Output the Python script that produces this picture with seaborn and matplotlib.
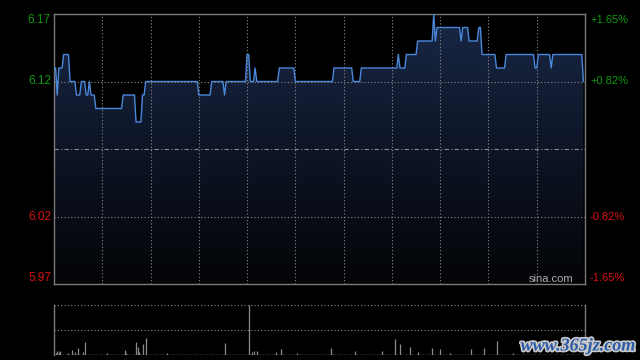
import numpy as np
import pandas as pd
import matplotlib
matplotlib.use("Agg")
import matplotlib.pyplot as plt
import matplotlib.patheffects as pe
from matplotlib.colors import LinearSegmentedColormap
import seaborn as sns

# ---- data ----
price_levels = [6.13, 6.11, 6.13, 6.14, 6.12, 6.11, 6.12, 6.11, 6.12, 6.11,
                6.10, 6.11, 6.09, 6.11, 6.12, 6.11, 6.12, 6.11, 6.12, 6.14,
                6.12, 6.13, 6.12, 6.13, 6.12, 6.13, 6.12, 6.13, 6.14, 6.13,
                6.14, 6.15, 6.17, 6.15, 6.16, 6.15, 6.16, 6.15, 6.16, 6.14,
                6.13, 6.14, 6.13, 6.14, 6.13, 6.14, 6.12]
run_lengths = [2, 1, 3, 4, 4, 3, 3, 2, 1, 3,
               17, 8, 4, 2, 33, 8, 8, 1, 13, 2,
               3, 1, 14, 10, 24, 12, 5, 23, 1, 4,
               7, 10, 1, 1, 15, 1, 4, 6, 2, 9,
               6, 18, 2, 8, 1, 19, 1]
prev_close = 6.07
left_ticks = [6.17, 6.12, 6.02, 5.97]
right_ticks = ["+1.65%", "+0.82%", "-0.82%", "-1.65%"]

vol_minutes = [1, 2, 3, 4, 9, 11, 13, 15, 18, 19, 33, 44, 45, 51, 52, 53, 55, 57,
               70, 106, 121, 123, 124, 126, 138, 141, 151, 172, 187, 204, 212,
               215, 221, 226, 235, 240, 246, 259, 267, 275, 285]
vol_values = [17, 43, 27, 43, 23, 50, 30, 65, 27, 123, 20, 53, 20, 123, 75, 30,
              103, 162, 20, 115, 490, 33, 43, 43, 30, 63, 23, 72, 42, 42, 153,
              103, 82, 27, 72, 60, 20, 60, 72, 142, 23]

prices = np.repeat(price_levels, run_lengths)
minutes = np.arange(len(prices))
df = pd.DataFrame({"minute": minutes, "price": prices})

# ---- figure ----
sns.set_style("dark")
plt.rcParams["font.family"] = ["Liberation Sans", "DejaVu Sans"]
fig = plt.figure(figsize=(6.4, 3.6), dpi=100, facecolor="black")
W, H = 640, 360
ax = fig.add_axes([54 / W, 1 - 284 / H, 531 / W, 270 / H])
axv = fig.add_axes([54 / W, 1 - 355 / H, 531 / W, 50 / H])
for a in (ax, axv):
    a.set_facecolor("black")
    a.grid(False)

xmax = 330
ymin, ymax = 5.97, 6.17

# gradient fill under the line
poly = ax.fill_between(df["minute"], df["price"], ymin, facecolor="none", edgecolor="none")
cmap = LinearSegmentedColormap.from_list("g", ["#030406", "#0d1526", "#1a2846"])
grad = np.linspace(0, 1, 256).reshape(-1, 1)
im = ax.imshow(grad, extent=[0, xmax, ymin, ymax], origin="lower", aspect="auto",
               cmap=cmap, zorder=1)
im.set_clip_path(poly.get_paths()[0], transform=ax.transData)

# grid lines
gcol = "#8a8a8a"
for xv in range(30, xmax, 30):
    ax.axvline(xv, color=gcol, lw=0.8, ls=(0, (1, 2)), zorder=2)
for yv in [6.12, 6.02]:
    ax.axhline(yv, color=gcol, lw=0.8, ls=(0, (1, 2)), zorder=2)
ax.axhline(prev_close, color=gcol, lw=0.8, ls=(0, (4, 2, 1, 2)), zorder=2)

sns.lineplot(data=df, x="minute", y="price", ax=ax, color="#4a88dc", lw=1.0, zorder=3)
ax.set_xlim(0, xmax)
ax.set_ylim(ymin, ymax)
ax.set_xticks([])
ax.set_yticks([])
ax.set_xlabel("")
ax.set_ylabel("")
for s in ax.spines.values():
    s.set_visible(True)
    s.set_color("#7a7a7a")
    s.set_linewidth(1.0)

# tick labels
green, red = "#0c9a0c", "#d81010"
trans_l = matplotlib.transforms.blended_transform_factory(fig.transFigure, ax.transData)
for i, (v, t) in enumerate(zip(left_ticks, right_ticks)):
    col = green if v > prev_close else red
    off = {0: -0.0048, 3: 0.0042}.get(i, 0)
    ax.text(51 / W, v + off, f"{v:.2f}", transform=trans_l, ha="right", va="center",
            color=col, fontsize=8.5)
    ax.text(590 / W, v + off, t, transform=trans_l, ha="left", va="center",
            color=col, fontsize=8)

ax.text(573 / W, 1 - 279 / H, "sina.com", transform=fig.transFigure, ha="right",
        va="center", color="#b0b0b0", fontsize=8)

# volume panel
axv.vlines(vol_minutes, 0, vol_values, color="#8c8c8c", lw=0.9)
axv.axhline(0, color="#8c8c8c", lw=1.0, ls=(0, (3, 1)))
axv.axhline(245, color=gcol, lw=0.8, ls=(0, (1, 2)))
axv.axhline(490, color=gcol, lw=0.8, ls=(0, (1, 2)))
axv.set_xlim(0, xmax)
axv.set_ylim(0, 490)
axv.set_xticks([])
axv.set_yticks([])
for k, s in axv.spines.items():
    s.set_color("#7a7a7a")
    s.set_linewidth(1.0)
    s.set_visible(k in ("left", "right"))

fig.text(635 / W, 1 - 346 / H, "www.365jz.com", ha="right", va="center",
         color="#2a5aa8", fontsize=13, fontweight="bold", fontstyle="italic",
         family=["Liberation Serif"],
         path_effects=[pe.withStroke(linewidth=2.5, foreground="#c8c8c8")])

fig.savefig("out.png", dpi=100, facecolor="black")
